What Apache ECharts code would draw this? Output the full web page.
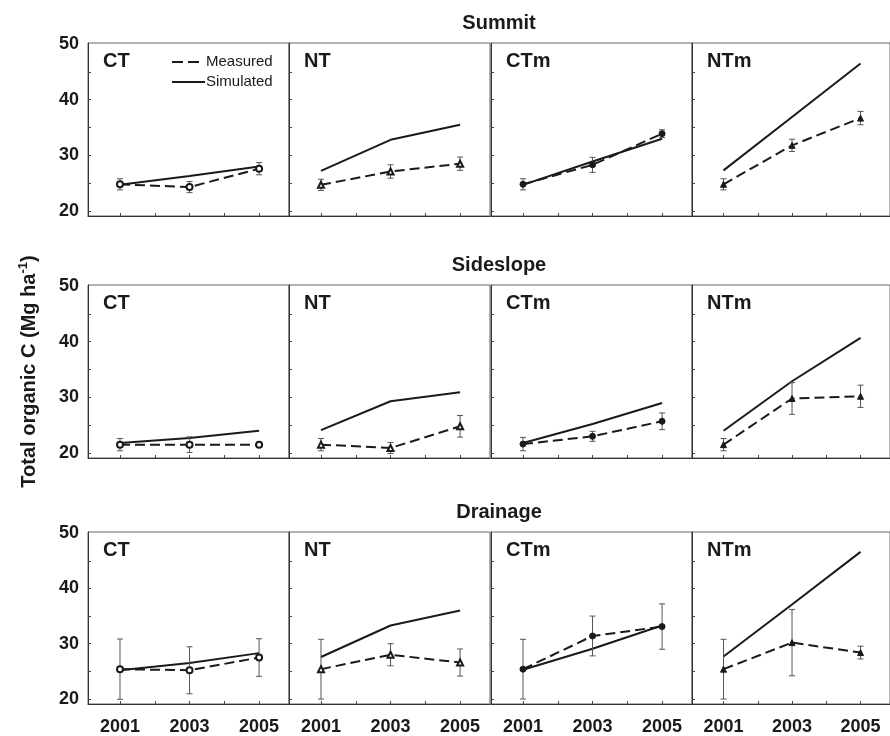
<!DOCTYPE html>
<html>
<head>
<meta charset="utf-8">
<script src="https://cdn.jsdelivr.net/npm/echarts@6/dist/echarts.min.js"></script>
<style>
  html, body { margin: 0; padding: 0; background: #fff; }
  #chart { width: 890px; height: 736px; }
</style>
</head>
<body>
<div id="chart"></div>
<script>
// 数据
const years = [2001, 2003, 2005];
const tickYears = [2001, 2002, 2003, 2004, 2005];
const yTicks = [20, 25, 30, 35, 40, 45];
const yLabels = [20, 30, 40, 50];
const positions = ['Summit', 'Sideslope', 'Drainage'];
const treatments = ['CT', 'NT', 'CTm', 'NTm'];

// each row: CT, NT, CTm, NTm ; values for 2001, 2003, 2005
const summitMeasured = [[24.8, 24.3, 27.6], [24.7, 27.1, 28.5], [24.8, 28.3, 33.9], [24.8, 31.8, 36.7]];
const summitError = [[1.0, 1.0, 1.1], [1.0, 1.2, 1.2], [1.0, 1.35, 0.7], [1.0, 1.1, 1.2]];
const summitSimulated = [[24.7, 26.3, 28.0], [27.2, 32.8, 35.5], [24.7, 28.9, 33.0], [27.3, 36.9, 46.5]];

const sideslopeMeasured = [[21.5, 21.5, 21.5], [21.5, 20.9, 24.8], [21.6, 23.0, 25.7], [21.5, 29.8, 30.2]];
const sideslopeError = [[1.1, 1.4, 0.3], [1.1, 1.0, 1.95], [1.2, 0.9, 1.5], [1.1, 2.85, 2.0]];
const sideslopeSimulated = [[21.8, 22.7, 24.0], [24.1, 29.3, 30.9], [21.8, 25.2, 29.0], [24.0, 32.9, 40.7]];

const drainageMeasured = [[25.4, 25.2, 27.5], [25.4, 28.0, 26.6], [25.4, 31.4, 33.1], [25.4, 30.2, 28.4]];
const drainageError = [[5.45, 4.25, 3.4], [5.4, 2.0, 2.45], [5.4, 3.6, 4.1], [5.4, 6.0, 1.15]];
const drainageSimulated = [[25.2, 26.5, 28.3], [27.6, 33.3, 36.0], [25.3, 29.1, 33.3], [27.7, 37.1, 46.6]];

const measuredRows = [summitMeasured, sideslopeMeasured, drainageMeasured];
const errorRows = [summitError, sideslopeError, drainageError];
const simulatedRows = [summitSimulated, sideslopeSimulated, drainageSimulated];

const markerShapes = ['emptyCircle', 'emptyTriangle', 'circle', 'triangle'];

const FONT = '"Liberation Sans", Arial, Helvetica, sans-serif';
const INK = '#1a1a1a';
const DASH = [10, 5];

// 布局
const colLeft = [88, 289, 491, 692];
const colWidth = 201;
const rowTop = [43, 285, 532];
const rowHeight = 173;

function renderErrorBar(params, api) {
    const x = api.value(0);
    const lo = api.coord([x, api.value(1)]);
    const hi = api.coord([x, api.value(2)]);
    const w = 3;
    const st = { stroke: '#555', lineWidth: 1 };
    return {
        type: 'group',
        children: [
            { type: 'line', shape: { x1: lo[0], y1: lo[1], x2: hi[0], y2: hi[1] }, style: st },
            { type: 'line', shape: { x1: lo[0] - w, y1: lo[1], x2: lo[0] + w, y2: lo[1] }, style: st },
            { type: 'line', shape: { x1: hi[0] - w, y1: hi[1], x2: hi[0] + w, y2: hi[1] }, style: st }
        ]
    };
}

const chart = echarts.init(document.getElementById('chart'), null, { renderer: 'canvas' });

const grids = [], xAxes = [], yAxes = [], series = [];

// legend drawn by hand (line sample + label)
const graphics = [
    { type: 'line', shape: { x1: 172, y1: 62, x2: 199, y2: 62 },
      style: { stroke: INK, lineWidth: 2, lineDash: [11, 5] } },
    { type: 'text', x: 206, y: 62,
      style: { text: 'Measured', font: '15px ' + FONT, fill: INK, textAlign: 'left', textVerticalAlign: 'middle' } },
    { type: 'line', shape: { x1: 172, y1: 82, x2: 205, y2: 82 },
      style: { stroke: INK, lineWidth: 2 } },
    { type: 'text', x: 206, y: 82,
      style: { text: 'Simulated', font: '15px ' + FONT, fill: INK, textAlign: 'left', textVerticalAlign: 'middle' } }
];

positions.forEach(function (pos, r) {
    graphics.push({
        type: 'text', x: 499, y: rowTop[r] - 20,
        style: { text: pos, font: 'bold 20px ' + FONT, fill: INK, textAlign: 'center', textVerticalAlign: 'middle' }
    });
    treatments.forEach(function (trt, c) {
        const idx = r * 4 + c;
        grids.push({
            left: colLeft[c], top: rowTop[r], width: colWidth, height: rowHeight,
            show: true, borderColor: '#666', borderWidth: 1, containLabel: false
        });
        xAxes.push({
            type: 'value', gridIndex: idx, min: 2000.08, max: 2005.86,
            axisLine: { show: true, onZero: false, lineStyle: { color: '#333', width: 1 } },
            axisTick: { show: true, inside: true, length: 3, customValues: tickYears, lineStyle: { color: '#444' } },
            axisLabel: {
                show: r === 2, customValues: years, margin: 14,
                fontSize: 18, fontWeight: 'bold', fontFamily: FONT, color: INK,
                formatter: function (v) { return String(v); }
            },
            splitLine: { show: false }
        });
        const yAx = {
            type: 'value', gridIndex: idx, min: 19.1, max: 50.2,
            axisLine: { show: true, onZero: false, lineStyle: { color: '#333', width: 1 } },
            axisTick: { show: true, inside: true, length: 3, customValues: yTicks, lineStyle: { color: '#444' } },
            axisLabel: {
                show: c === 0, customValues: yLabels, margin: 9,
                fontSize: 18, fontWeight: 'bold', fontFamily: FONT, color: INK
            },
            splitLine: { show: false }
        };
        if (r === 1 && c === 0) {
            yAx.name = '{t|Total organic C (Mg ha}{s|-1}{t|)}';
            yAx.nameLocation = 'middle';
            yAx.nameRotate = 90;
            yAx.nameGap = 46;
            yAx.nameTextStyle = {
                rich: {
                    t: { fontSize: 20, fontWeight: 'bold', fontFamily: FONT, color: INK },
                    s: { fontSize: 13, fontWeight: 'bold', fontFamily: FONT, color: INK, padding: [0, 0, 12, 0] }
                }
            };
        }
        yAxes.push(yAx);

        graphics.push({
            type: 'text', x: colLeft[c] + 15, y: rowTop[r] + 18,
            style: { text: trt, font: 'bold 20px ' + FONT, fill: INK, textAlign: 'left', textVerticalAlign: 'middle' }
        });

        const meas = measuredRows[r][c];
        const err = errorRows[r][c];
        const sim = simulatedRows[r][c];

        series.push({
            name: 'Simulated ' + pos + ' ' + trt, type: 'line', xAxisIndex: idx, yAxisIndex: idx,
            data: years.map(function (y, k) { return [y, sim[k]]; }),
            symbol: 'none', lineStyle: { color: INK, width: 2 }, z: 2
        });
        series.push({
            name: 'Error ' + pos + ' ' + trt, type: 'custom', xAxisIndex: idx, yAxisIndex: idx,
            renderItem: renderErrorBar,
            encode: { x: 0, y: [1, 2] },
            data: years.map(function (y, k) { return [y, meas[k] - err[k], meas[k] + err[k]]; }),
            z: 3
        });
        series.push({
            name: 'Measured ' + pos + ' ' + trt, type: 'line', xAxisIndex: idx, yAxisIndex: idx,
            data: years.map(function (y, k) { return [y, meas[k]]; }),
            symbol: markerShapes[c], symbolSize: 6, showAllSymbol: true,
            lineStyle: { color: INK, width: 2, type: DASH },
            itemStyle: { color: INK, borderColor: INK, borderWidth: 1 },
            z: 4
        });
    });
});

const option = {
    animation: false,
    backgroundColor: '#fff',
    textStyle: { fontFamily: FONT },
    grid: grids,
    xAxis: xAxes,
    yAxis: yAxes,
    graphic: graphics,
    series: series
};

chart.setOption(option);

window.addEventListener('resize', function () {
    chart.resize();
});
</script>
</body>
</html>
